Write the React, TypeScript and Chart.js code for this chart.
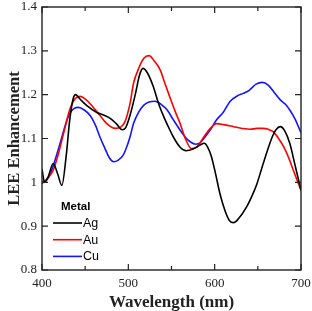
import React, { useEffect, useRef } from "react";
import { Chart, registerables } from "chart.js";

Chart.register(...registerables);

const agX = [400, 403, 407, 413, 418, 423, 428, 432, 436, 439, 444, 452, 463, 472, 479, 486, 493, 497, 502, 508, 513, 517, 522, 529, 535, 541, 547, 552, 560, 567, 575, 583, 588, 592, 596, 601, 606, 612, 617, 622, 628, 637, 643, 649, 655, 660, 667, 671, 676, 681, 687, 693, 700];
const agY = [1.03, 1.0, 1.012, 1.043, 1.02, 0.993, 1.06, 1.14, 1.19, 1.2, 1.19, 1.175, 1.16, 1.153, 1.146, 1.134, 1.12, 1.125, 1.153, 1.2, 1.245, 1.26, 1.25, 1.218, 1.18, 1.15, 1.124, 1.104, 1.08, 1.072, 1.076, 1.085, 1.089, 1.08, 1.06, 1.02, 0.975, 0.935, 0.913, 0.908, 0.918, 0.944, 0.968, 0.997, 1.035, 1.066, 1.105, 1.12, 1.127, 1.118, 1.089, 1.04, 0.982];

const auX = [400, 406, 413, 419, 425, 432, 438, 444, 452, 459, 467, 475, 485, 491, 496, 502, 506, 512, 518, 524, 530, 537, 542, 548, 554, 560, 566, 573, 579, 583, 589, 595, 602, 612, 622, 632, 641, 649, 656, 662, 668, 674, 680, 686, 691, 700];
const auY = [0.997, 1.008, 1.028, 1.065, 1.112, 1.165, 1.19, 1.196, 1.187, 1.172, 1.153, 1.134, 1.123, 1.126, 1.138, 1.18, 1.226, 1.26, 1.283, 1.289, 1.277, 1.256, 1.228, 1.195, 1.163, 1.134, 1.1, 1.077, 1.08, 1.09, 1.108, 1.123, 1.134, 1.131, 1.127, 1.123, 1.121, 1.123, 1.123, 1.121, 1.115, 1.1, 1.081, 1.055, 1.028, 0.982];

const cuX = [400, 405, 409, 415, 421, 427, 432, 437, 442, 449, 456, 462, 467, 473, 478, 483, 488, 494, 498, 502, 506, 512, 518, 524, 531, 538, 545, 552, 560, 566, 572, 578, 583, 589, 595, 602, 610, 618, 626, 633, 640, 648, 655, 662, 669, 676, 682, 687, 693, 700];
const cuY = [1.0, 1.005, 1.016, 1.05, 1.089, 1.13, 1.157, 1.168, 1.171, 1.165, 1.152, 1.13, 1.104, 1.077, 1.056, 1.047, 1.05, 1.062, 1.08, 1.104, 1.134, 1.16, 1.176, 1.183, 1.185, 1.178, 1.165, 1.143, 1.119, 1.103, 1.092, 1.087, 1.09, 1.104, 1.12, 1.142, 1.16, 1.185, 1.197, 1.203, 1.21, 1.224, 1.228, 1.222, 1.205, 1.188, 1.178, 1.165, 1.145, 1.113];

const seriesLabels = ["Ag", "Au", "Cu"];
const seriesColors = ["#000000", "#ff0000", "#1414ff"];
const legendTitle = "Metal";
const xTitle = "Wavelength (nm)";
const yTitle = "LEE Enhancement";
const xMajorTicks = [400, 500, 600, 700];
const xMinorTicks = [450, 550, 650];
const yMajorTicks = [0.8, 0.9, 1.0, 1.1, 1.2, 1.3, 1.4];

const toPts = (xs: number[], ys: number[]) => xs.map((x, i) => ({ x, y: ys[i] }));

const framePlugin = {
  id: "framePlugin",
  afterDraw(chart: any) {
    const { ctx, chartArea } = chart;
    const { left, right, top, bottom } = chartArea;
    const xs = chart.scales.x;
    const ys = chart.scales.y;
    ctx.save();
    ctx.strokeStyle = "#222";
    ctx.lineWidth = 1.4;
    ctx.strokeRect(left, top, right - left, bottom - top);
    ctx.lineWidth = 1.2;
    ctx.beginPath();
    const drawX = (v: number, len: number) => {
      const px = xs.getPixelForValue(v);
      ctx.moveTo(px, bottom);
      ctx.lineTo(px, bottom - len);
      ctx.moveTo(px, top);
      ctx.lineTo(px, top + len);
    };
    xMajorTicks.forEach((v) => drawX(v, 6));
    xMinorTicks.forEach((v) => drawX(v, 4));
    yMajorTicks.forEach((v) => {
      const py = ys.getPixelForValue(v);
      ctx.moveTo(left, py);
      ctx.lineTo(left + 6, py);
      ctx.moveTo(right, py);
      ctx.lineTo(right - 6, py);
    });
    ctx.stroke();

    // legend
    const lx = left + 11;
    ctx.fillStyle = "#000";
    ctx.font = "bold 11.5px 'Liberation Sans', Arial, sans-serif";
    ctx.textBaseline = "middle";
    ctx.textAlign = "left";
    ctx.fillText(legendTitle, left + 19, bottom - 63);
    ctx.font = "12.5px 'Liberation Sans', Arial, sans-serif";
    seriesLabels.forEach((lab, i) => {
      const y = bottom - 47 + i * 16.7;
      ctx.strokeStyle = seriesColors[i];
      ctx.lineWidth = 1.6;
      ctx.beginPath();
      ctx.moveTo(lx, y);
      ctx.lineTo(lx + 29, y);
      ctx.stroke();
      ctx.fillStyle = "#000";
      ctx.fillText(lab, lx + 30, y + 0.5);
    });
    ctx.restore();
  },
};

const zeroPad = (s: any) => {
  s.paddingTop = 0;
  s.paddingBottom = 0;
  s.paddingLeft = 0;
  s.paddingRight = 0;
};

export default function App() {
  const ref = useRef<HTMLCanvasElement | null>(null);
  useEffect(() => {
    if (!ref.current) return;
    const serif = "'Liberation Serif', 'Times New Roman', serif";
    const chart = new Chart(ref.current, {
      type: "line",
      data: {
        datasets: [
          { label: seriesLabels[0], data: toPts(agX, agY), borderColor: seriesColors[0] },
          { label: seriesLabels[1], data: toPts(auX, auY), borderColor: seriesColors[1] },
          { label: seriesLabels[2], data: toPts(cuX, cuY), borderColor: seriesColors[2] },
        ].map((d) => ({
          ...d,
          borderWidth: 1.6,
          pointRadius: 0,
          fill: false,
          cubicInterpolationMode: "monotone" as const,
        })),
      },
      options: {
        animation: false,
        responsive: true,
        maintainAspectRatio: false,
        layout: { padding: { top: 7, right: 11, left: 0, bottom: 0 } },
        plugins: { legend: { display: false }, tooltip: { enabled: false } },
        scales: {
          x: {
            type: "linear",
            min: 400,
            max: 700,
            grid: { display: false, drawTicks: false },
            border: { display: false },
            ticks: { stepSize: 100, padding: 6, color: "#222", font: { family: serif, size: 13 }, maxRotation: 0, autoSkip: false },
            title: { display: true, text: xTitle, color: "#222", padding: 0, font: { family: serif, size: 17, weight: "bold", lineHeight: 1 } },
            afterFit: (s: any) => { s.height = 41; zeroPad(s); },
          },
          y: {
            type: "linear",
            min: 0.8,
            max: 1.4,
            grid: { display: false, drawTicks: false },
            border: { display: false },
            ticks: {
              stepSize: 0.1,
              padding: 5,
              autoSkip: false,
              color: "#222",
              font: { family: serif, size: 13 },
              callback: (v: any) => String(+Number(v).toFixed(1)),
            },
            title: { display: true, text: yTitle, color: "#222", padding: { top: 5, bottom: 0 }, font: { family: serif, size: 16.5, weight: "bold" } },
            afterFit: (s: any) => { s.width = 42; zeroPad(s); },
          },
        },
      },
      plugins: [framePlugin],
    } as any);
    return () => chart.destroy();
  }, []);
  return (
    <div style={{ position: "fixed", left: 0, top: 0, width: 312, height: 311 }}>
      <canvas ref={ref} />
    </div>
  );
}
